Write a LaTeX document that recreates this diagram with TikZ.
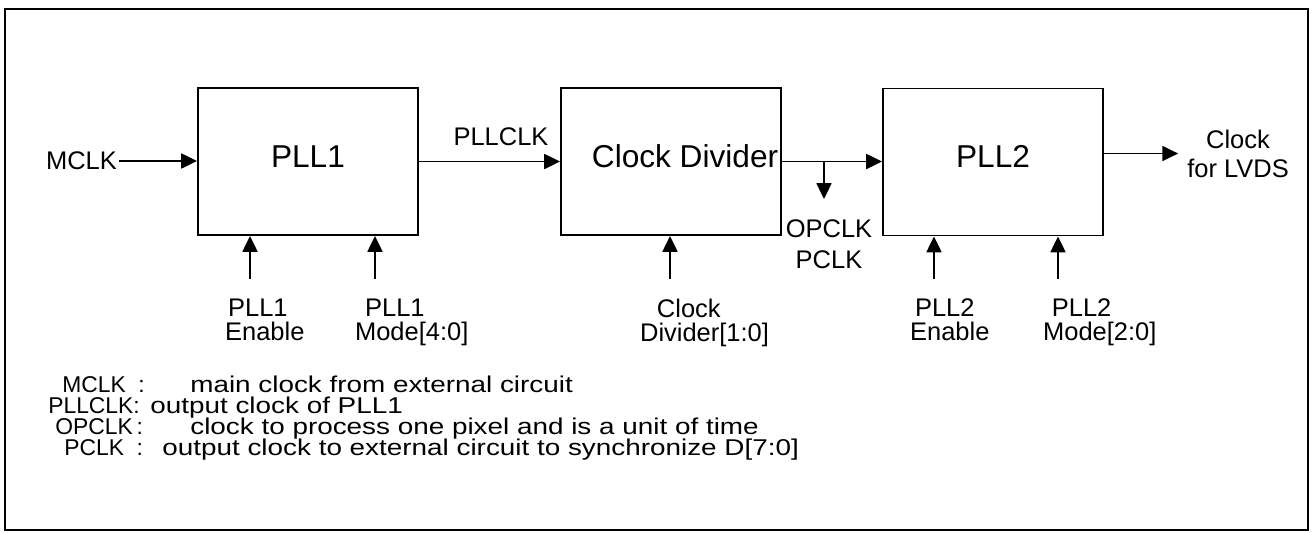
\documentclass[tikz,border=0pt]{standalone}
\usepackage{fontspec}
\setmainfont{Liberation Sans}
\newfontfamily\ancha{Liberation Sans}[FakeStretch=1.22]
\usetikzlibrary{arrows.meta,positioning}

\tikzset{
  bloque/.style={draw, line width=1.1pt, minimum width=4.4cm, minimum height=2.94cm,
    inner sep=0pt, text depth=6pt, font=\fontsize{18}{21}\selectfont},
  senal/.style={line width=1.1pt, -{Triangle[length=9pt,width=8.5pt]}},
  etiq/.style={font=\fontsize{14.5}{13.6}\selectfont, inner sep=1pt},
  clave/.style={font=\fontsize{13}{15}\selectfont, anchor=base west, inner sep=0pt},
  texto/.style={font=\ancha\fontsize{13}{15}\selectfont, anchor=base west, inner sep=0pt},
}

\begin{document}
\begin{tikzpicture}[x=0.02cm, y=-0.02cm]
\useasboundingbox (0,0) rectangle (1313,532);

% Marco
\draw[line width=1.5pt] (5,9) rectangle (1308,530);

% Bloques
\node[bloque] (pll1) at (308,161.5) {PLL1};
\node[bloque] (cdiv) at (671,161.5) {\hspace*{16pt}Clock Divider};
\node[bloque] (pll2) at (993,162) {PLL2};

% Reloj de entrada
\node[etiq, anchor=east] (mclk) at (119,161) {MCLK};
\draw[senal] (mclk.east) -- (mclk.east -| pll1.west);

% PLL1 -> divisor
\draw[senal] (pll1) -- (cdiv);
\node[etiq] (pllclk) at (501,137) {PLLCLK};

% Divisor -> PLL2, con derivacion
\draw[senal] (cdiv.east) -- (cdiv.east -| pll2.west);
\coordinate (abz) at (824,161);
\coordinate (abzfin) at (824,199);
\draw[senal] (abz) -- (abzfin);
\node[etiq, align=center, font=\fontsize{14.5}{17.6}\selectfont] (opclk) at (829,244.5) {OPCLK\\PCLK};

% Salida
\node[etiq, align=center, font=\fontsize{14.5}{16.4}\selectfont] (lvds) at (1238,153.5) {Clock\\for LVDS};
\draw[senal, shorten >=4pt] (pll2.east |- lvds.west) -- (lvds.west);

% Entradas de control
\node[etiq, align=left, anchor=north west] (en1) at (223,297) {\hspace*{1.7pt}PLL1\\Enable};
\node[etiq, align=left, anchor=north west] (md1) at (353,297) {\hspace*{5.7pt}PLL1\\Mode[4:0]};
\node[etiq, align=left, anchor=north west] (cdv) at (638,297) {\hspace*{9.6pt}Clock\\Divider[1:0]};
\node[etiq, align=left, anchor=north west] (en2) at (908,297) {\hspace*{2.8pt}PLL2\\Enable};
\node[etiq, align=left, anchor=north west] (md2) at (1041,297) {\hspace*{5pt}PLL2\\Mode[2:0]};

\coordinate (c1) at (250,279);
\coordinate (c2) at (375,279);
\coordinate (c3) at (670,279);
\coordinate (c4) at (934,279);
\coordinate (c5) at (1058,279);
\draw[senal] (c1) -- (c1 |- pll1.south);
\draw[senal] (c2) -- (c2 |- pll1.south);
\draw[senal] (c3) -- (c3 |- cdiv.south);
\draw[senal] (c4) -- (c4 |- pll2.south);
\draw[senal] (c5) -- (c5 |- pll2.south);

% Leyenda
\node[clave] (kmclk) at (62,392) {MCLK\ \ :};
\node[texto] (tmclk) at (190,392) {main clock from external circuit};
\node[clave] (kpll) at (48,413) {PLLCLK:};
\node[texto] (tpll) at (150,413) {output clock of PLL1};
\node[clave] (kop) at (55,434) {OPCLK\,:};
\node[texto] (top) at (190,434) {clock to process one pixel and is a unit of time};
\node[clave] (kp) at (64,455) {PCLK\ \ :};
\node[texto] (tp) at (162,455) {output clock to external circuit to synchronize D[7:0]};

\end{tikzpicture}
\end{document}
